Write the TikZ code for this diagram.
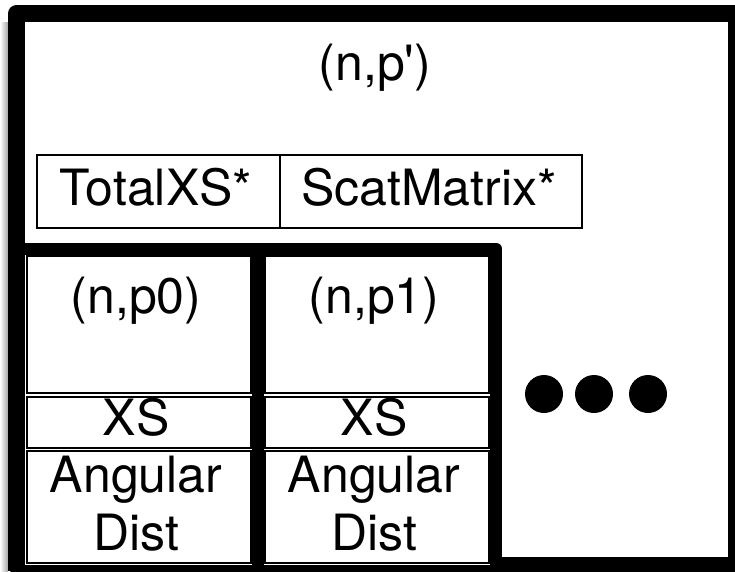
\documentclass[tikz,border=0pt]{standalone}
\usepackage{fontspec}
\setmainfont{TeX Gyre Heros}[Ligatures=TeXOff]
\begin{document}
\begin{tikzpicture}[x=1pt,y=-1pt,
  outerbox/.style={draw=black,line width=17pt,line join=round},
  panel/.style={draw=black,fill=white,line width=12pt,line join=round},
  cell/.style={draw=black,fill=white,line width=2pt},
  toprow/.style={draw=black,fill=white,line width=2.5pt},
  lbl/.style={inner sep=0pt,anchor=base,font=\fontsize{50}{58}\selectfont},
  dot/.style={fill=black,circle,inner sep=0pt,minimum size=38pt}]
\clip (0,0) rectangle (735,571);
\fill[white] (0,0) rectangle (735,571);
\shade[left color=white,right color=black!35] (0,22) rectangle (8,571);
% outer frame
\draw[outerbox] (16.5,13.5) rectangle (736.5,565.5);
\node[lbl] (np) at (375,80) {(n,p')};
% top row
\draw[toprow] (37,155) rectangle (280,228);
\draw[toprow] (280,155) rectangle (582,228);
\node[lbl] (totxs) at (156,205) {TotalXS*};
\node[lbl] (scat) at (429,205) {ScatMatrix*};
% panels
\draw[panel] (16.5,248.5) rectangle (258,571);
\draw[panel] (258,248.5) rectangle (496,571);
% outer frame left edge redrawn over panel
\draw[black,line width=17pt] (16.5,248.5) -- (16.5,571);
% panel 1 cells
\draw[cell] (27,256) rectangle (251,393);
\draw[cell] (27,397) rectangle (251,448);
\draw[cell] (27,451) rectangle (251,563);
% panel 2 cells
\draw[cell] (265,256) rectangle (489,393);
\draw[cell] (265,397) rectangle (489,448);
\draw[cell] (265,451) rectangle (489,563);
% labels panel 1
\node[lbl] (p0) at (136,313) {(n,p0)};
\node[lbl] (xs0) at (136,435) {XS};
\node[lbl] (ang0) at (136,492) {Angular};
\node[lbl] (dist0) at (136,550) {Dist};
% labels panel 2
\node[lbl] (p1) at (374,313) {(n,p1)};
\node[lbl] (xs1) at (374,435) {XS};
\node[lbl] (ang1) at (374,492) {Angular};
\node[lbl] (dist1) at (374,550) {Dist};
% dots
\node[dot] (d1) at (544,394) {};
\node[dot] (d2) at (594,394) {};
\node[dot] (d3) at (648,394) {};
\end{tikzpicture}
\end{document}
